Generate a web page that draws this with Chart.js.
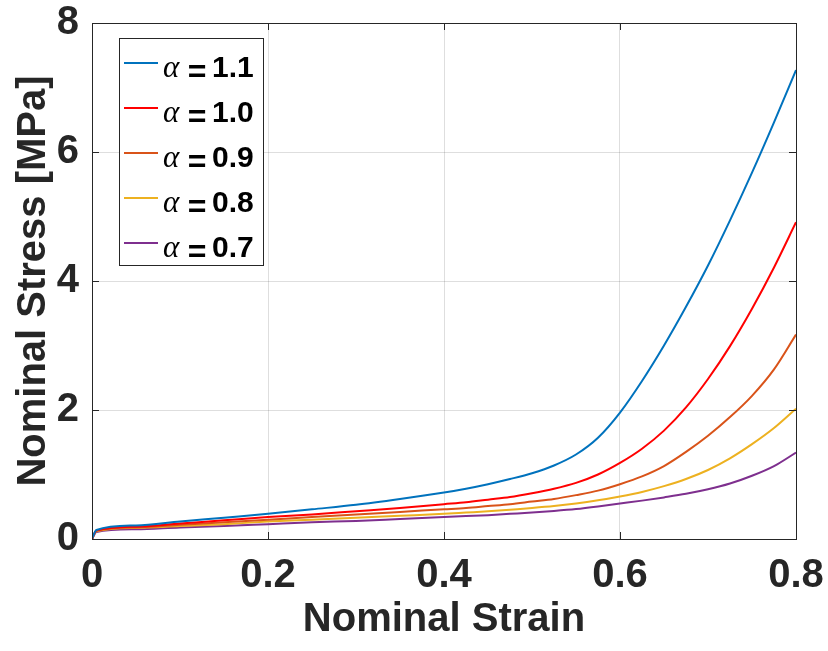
<!DOCTYPE html>
<html>
<head>
<meta charset="utf-8">
<script src="https://cdn.jsdelivr.net/npm/chart.js@4.4.1/dist/chart.umd.min.js"></script>
<style>
  html, body { margin: 0; padding: 0; background: #fff; }
</style>
</head>
<body>
<canvas id="myChart" width="828" height="651"></canvas>
<script>
// nominal strain values (x) shared by every curve
var strain = [0, 0.005, 0.05, 0.1, 0.15, 0.2, 0.25, 0.3, 0.35, 0.4, 0.425, 0.45, 0.475, 0.5, 0.525, 0.55, 0.575, 0.6, 0.625, 0.65, 0.675, 0.7, 0.725, 0.75, 0.775, 0.8];

// nominal stress [MPa], one list per alpha
var stress_11 = [0, 0.14, 0.21, 0.27, 0.33, 0.39, 0.46, 0.53, 0.62, 0.72, 0.78, 0.85, 0.93, 1.02, 1.14, 1.31, 1.57, 1.96, 2.45, 3.00, 3.60, 4.24, 4.94, 5.68, 6.46, 7.27];
var stress_10 = [0, 0.13, 0.19, 0.24, 0.29, 0.34, 0.38, 0.43, 0.48, 0.54, 0.57, 0.61, 0.65, 0.71, 0.78, 0.87, 1.00, 1.18, 1.40, 1.68, 2.04, 2.48, 2.99, 3.57, 4.21, 4.91];
var stress_09 = [0, 0.13, 0.18, 0.22, 0.26, 0.30, 0.34, 0.38, 0.42, 0.46, 0.48, 0.51, 0.54, 0.58, 0.62, 0.68, 0.75, 0.85, 0.97, 1.13, 1.35, 1.60, 1.89, 2.22, 2.63, 3.17];
var stress_08 = [0, 0.12, 0.17, 0.20, 0.23, 0.27, 0.30, 0.33, 0.36, 0.39, 0.41, 0.43, 0.455, 0.48, 0.51, 0.55, 0.60, 0.66, 0.73, 0.82, 0.93, 1.07, 1.25, 1.47, 1.72, 2.02];
var stress_07 = [0, 0.11, 0.15, 0.18, 0.20, 0.23, 0.26, 0.28, 0.31, 0.34, 0.355, 0.37, 0.39, 0.41, 0.435, 0.465, 0.505, 0.55, 0.595, 0.645, 0.70, 0.77, 0.86, 0.98, 1.13, 1.34];

var alphas = ['1.1', '1.0', '0.9', '0.8', '0.7'];
var colors = ['#0072BD', '#FF0000', '#D95319', '#EDB120', '#7E2F8E'];
var x_ticks = [0, 0.2, 0.4, 0.6, 0.8];
var y_ticks = [0, 2, 4, 6, 8];

var text_color = '#262626';
var font_family = '"Liberation Sans", Arial, Helvetica, sans-serif';

// turn a stress list into {x, y} points
function make_points(stress) {
    var points = [];
    for (var i = 0; i < strain.length; i++) {
        points.push({ x: strain[i], y: stress[i] });
    }
    return points;
}

var all_stress = [stress_11, stress_10, stress_09, stress_08, stress_07];
var datasets = [];
for (var i = 0; i < all_stress.length; i++) {
    datasets.push({
        label: 'α=' + alphas[i],
        data: make_points(all_stress[i]),
        borderColor: colors[i],
        backgroundColor: colors[i],
        borderWidth: 2,
        pointRadius: 0,
        cubicInterpolationMode: 'monotone',
        fill: false
    });
}

// box around the axes plus the small inward ticks (matlab style)
var axes_box = {
    id: 'axes_box',
    afterDatasetsDraw: function(chart) {
        var ctx = chart.ctx;
        var area = chart.chartArea;
        var xs = chart.scales.x;
        var ys = chart.scales.y;
        ctx.save();
        ctx.strokeStyle = text_color;
        ctx.lineWidth = 1;
        ctx.beginPath();
        for (var i = 1; i < x_ticks.length - 1; i++) {
            var px = Math.round(xs.getPixelForValue(x_ticks[i])) + 0.5;
            ctx.moveTo(px, area.bottom);
            ctx.lineTo(px, area.bottom - 7);
            ctx.moveTo(px, area.top);
            ctx.lineTo(px, area.top + 7);
        }
        for (var j = 1; j < y_ticks.length - 1; j++) {
            var py = Math.round(ys.getPixelForValue(y_ticks[j])) + 0.5;
            ctx.moveTo(area.left, py);
            ctx.lineTo(area.left + 7, py);
            ctx.moveTo(area.right, py);
            ctx.lineTo(area.right - 7, py);
        }
        ctx.stroke();
        ctx.strokeRect(Math.round(area.left) + 0.5, Math.round(area.top) + 0.5,
            Math.round(area.right - area.left), Math.round(area.bottom - area.top));
        ctx.restore();
    }
};

// legend drawn inside the plot, top left, with italic alpha
var legend_box = {
    id: 'legend_box',
    afterDraw: function(chart) {
        var ctx = chart.ctx;
        var area = chart.chartArea;
        var x0 = Math.round(area.left) + 27;
        var y0 = Math.round(area.top) + 15;
        var w = 144;
        var h = 227;
        var row = 45;
        ctx.save();
        ctx.fillStyle = '#fff';
        ctx.fillRect(x0, y0, w, h);
        ctx.strokeStyle = text_color;
        ctx.lineWidth = 1;
        ctx.strokeRect(x0 + 0.5, y0 + 0.5, w, h);
        for (var i = 0; i < chart.data.datasets.length; i++) {
            var ds = chart.data.datasets[i];
            var ly = y0 + 25 + i * row;
            ctx.strokeStyle = ds.borderColor;
            ctx.lineWidth = 2;
            ctx.beginPath();
            ctx.moveTo(x0 + 5, ly);
            ctx.lineTo(x0 + 39, ly);
            ctx.stroke();

            var parts = ds.label.split('=');
            ctx.fillStyle = '#000';
            ctx.textBaseline = 'alphabetic';
            ctx.textAlign = 'left';
            ctx.font = 'italic 31px "Liberation Serif", "Times New Roman", serif';
            ctx.fillText(parts[0], x0 + 44, ly + 14);
            ctx.textAlign = 'center';
            ctx.font = 'bold 32px ' + font_family;
            ctx.fillText('=', x0 + 78, ly + 19);
            ctx.textAlign = 'left';
            ctx.font = 'bold 30px ' + font_family;
            ctx.fillText(parts[1], x0 + 93, ly + 14);
        }
        ctx.restore();
    }
};

var ctx = document.getElementById('myChart').getContext('2d');

var myChart = new Chart(ctx, {
    type: 'line',
    data: { datasets: datasets },
    options: {
        responsive: false,
        animation: false,
        devicePixelRatio: 1,
        layout: { padding: { top: 23, right: 32, left: 0, bottom: 0 } },
        plugins: {
            legend: { display: false },
            tooltip: { enabled: false }
        },
        scales: {
            x: {
                type: 'linear',
                min: 0,
                max: 0.8,
                afterBuildTicks: function(scale) {
                    scale.ticks = x_ticks.map(function(v) { return { value: v }; });
                },
                afterFit: function(scale) {
                    scale.height = 112;
                    scale.paddingLeft = 0;
                    scale.paddingRight = 0;
                },
                grid: { color: 'rgba(0,0,0,0.13)', drawTicks: false },
                border: { display: false },
                ticks: {
                    color: text_color,
                    padding: 13,
                    maxRotation: 0,
                    font: { family: font_family, size: 40, weight: 'bold' },
                    callback: function(value) { return String(value); }
                },
                title: {
                    display: true,
                    text: 'Nominal Strain',
                    color: text_color,
                    font: { family: font_family, size: 40, weight: 'bold' },
                    padding: { top: 0, bottom: 7 }
                }
            },
            y: {
                type: 'linear',
                min: 0,
                max: 8,
                afterBuildTicks: function(scale) {
                    scale.ticks = y_ticks.map(function(v) { return { value: v }; });
                },
                afterFit: function(scale) {
                    scale.width = 92;
                    scale.paddingTop = 0;
                    scale.paddingBottom = 0;
                },
                grid: { color: 'rgba(0,0,0,0.13)', drawTicks: false },
                border: { display: false },
                ticks: {
                    color: text_color,
                    padding: 13,
                    font: { family: font_family, size: 40, weight: 'bold' },
                    callback: function(value) { return String(value); }
                },
                title: {
                    display: true,
                    text: 'Nominal Stress [MPa]',
                    color: text_color,
                    font: { family: font_family, size: 40, weight: 'bold' },
                    padding: { top: 10, bottom: 0 }
                }
            }
        }
    },
    plugins: [axes_box, legend_box]
});
</script>
</body>
</html>
